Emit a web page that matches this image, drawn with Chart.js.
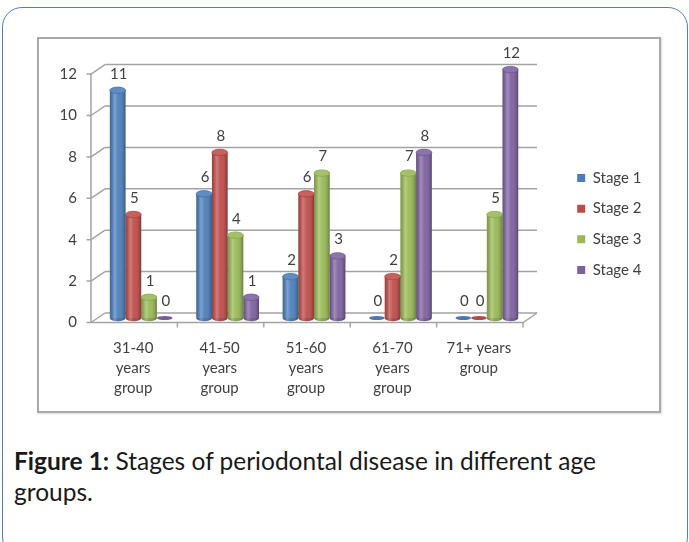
<!DOCTYPE html>
<html>
<head>
<meta charset="utf-8">
<script src="https://cdn.jsdelivr.net/npm/chart.js@4.4.1/dist/chart.umd.min.js"></script>
<style>
  html, body { margin: 0; padding: 0; background: #ffffff; }
  body { width: 689px; height: 542px; position: relative; overflow: hidden; font-family: Lato, "Open Sans", sans-serif; }
  .card { position: absolute; left: 2px; top: 7px; width: 684px; height: 548px; border: 1.5px solid #4f7fbd; border-radius: 20px; }
  .frame { position: absolute; left: 37px; top: 37px; width: 620px; height: 372px; border: 2px solid #a9a9a9; box-shadow: 1px 1px 2px rgba(0,0,0,0.15); }
  #chart { position: absolute; left: 38px; top: 38px; }
  .caption { position: absolute; left: 14px; top: 445px; width: 670px; font-size: 24.5px; line-height: 31px; color: #1a1a1a; white-space: nowrap; }
  .caption b { font-weight: 700; }
</style>
</head>
<body>
<div class="card"></div>
<div class="frame"></div>
<canvas id="chart" width="620" height="372"></canvas>
<div class="caption"><b>Figure 1:</b> Stages of periodontal disease in different age<br>groups.</div>
<script>
// Age groups on the category axis (multi-line labels)
const categories = [
  ['31-40', 'years', 'group'],
  ['41-50', 'years', 'group'],
  ['51-60', 'years', 'group'],
  ['61-70', 'years', 'group'],
  ['71+ years', 'group']
];
const seriesNames = ['Stage 1', 'Stage 2', 'Stage 3', 'Stage 4'];
const stage1 = [11, 6, 2, 0, 0];
const stage2 = [5, 8, 6, 2, 0];
const stage3 = [1, 4, 7, 7, 5];
const stage4 = [0, 1, 3, 8, 12];
const yTicks = [0, 2, 4, 6, 8, 10, 12];
const seriesColors = ['#4a7ebb', '#be4b48', '#98b954', '#7d60a0'];

const FONT = 'Lato, "Open Sans", sans-serif';
const TEXT = '#404040';
const GRID = '#a3a3a3';
// depth of the pseudo-3D box: bars sit midway between front and back planes
const DEPTH_X = 7, DEPTH_BACK_Y = -5, DEPTH_FRONT_Y = 4.5;
const LEGEND_LEFT = 523.5;

function shade(hex, f) {
  const n = parseInt(hex.slice(1), 16);
  let r = (n >> 16) & 255, g = (n >> 8) & 255, b = n & 255;
  if (f >= 0) { r += (255 - r) * f; g += (255 - g) * f; b += (255 - b) * f; }
  else { r *= 1 + f; g *= 1 + f; b *= 1 + f; }
  return `rgb(${Math.round(r)},${Math.round(g)},${Math.round(b)})`;
}

// Keep the legend column in the right margin, centred on the full canvas height
const legendPlacement = {
  id: 'legendPlacement',
  afterLayout(chart) {
    const lg = chart.legend;
    if (!lg) return;
    const shift = LEGEND_LEFT - lg.left;
    lg.left += shift;
    lg.right += shift;
    lg.top = 0;
    lg.bottom = chart.height;
    lg.height = chart.height;
  }
};

// Back wall, side wall, floor and front axis lines drawn from the scales
const wallsPlugin = {
  id: 'walls',
  beforeDatasetsDraw(chart) {
    const { ctx, chartArea: a, scales: { y } } = chart;
    ctx.save();
    ctx.strokeStyle = GRID;
    ctx.lineWidth = 1.5;
    const fx = a.left - DEPTH_X, bx = a.left + DEPTH_X;
    yTicks.forEach(v => {
      const py = y.getPixelForValue(v);
      const yb = py + DEPTH_BACK_Y, yf = py + DEPTH_FRONT_Y;
      ctx.beginPath();
      ctx.moveTo(bx, yb); ctx.lineTo(a.right + DEPTH_X, yb);      // back wall line
      ctx.moveTo(fx, yf); ctx.lineTo(bx, yb);                      // side wall line
      ctx.moveTo(fx - 4.5, yf); ctx.lineTo(fx, yf);                // tick mark
      ctx.stroke();
    });
    const y0 = y.getPixelForValue(0), yTop = y.getPixelForValue(12);
    ctx.beginPath();
    ctx.moveTo(fx, yTop + DEPTH_FRONT_Y); ctx.lineTo(fx, y0 + DEPTH_FRONT_Y);          // front y axis
    ctx.moveTo(fx, y0 + DEPTH_FRONT_Y); ctx.lineTo(a.right - DEPTH_X, y0 + DEPTH_FRONT_Y); // front x axis
    ctx.lineTo(a.right + DEPTH_X, y0 + DEPTH_BACK_Y);                                  // floor edge
    const step = (a.right - a.left) / categories.length;
    for (let i = 1; i <= categories.length; i++) {
      const tx = a.left - DEPTH_X + i * step;
      ctx.moveTo(tx, y0 + DEPTH_FRONT_Y); ctx.lineTo(tx, y0 + DEPTH_FRONT_Y + 5);
    }
    ctx.stroke();
    ctx.restore();
  }
};

// Cylinder shading, end caps and value labels for each bar
const cylinderPlugin = {
  id: 'cylinders',
  afterDatasetsDraw(chart) {
    const { ctx } = chart;
    ctx.save();
    chart.data.datasets.forEach((ds, di) => {
      const meta = chart.getDatasetMeta(di);
      const base = seriesColors[di];
      meta.data.forEach((el, i) => {
        const { x, y, width, base: b } = el.getProps(['x', 'y', 'width', 'base'], true);
        const l = x - width / 2, r = x + width / 2, h = b - y;
        const ry = 3.2;
        if (h > 0.5) {
          // bottom rounded end
          ctx.beginPath();
          ctx.ellipse(x, b, width / 2, ry, 0, 0, Math.PI);
          ctx.fillStyle = shade(base, -0.15);
          ctx.fill();
          // body highlight / shadow
          const g = ctx.createLinearGradient(l, 0, r, 0);
          g.addColorStop(0, 'rgba(0,0,0,0.18)');
          g.addColorStop(0.3, 'rgba(255,255,255,0.28)');
          g.addColorStop(0.55, 'rgba(255,255,255,0.05)');
          g.addColorStop(1, 'rgba(0,0,0,0.30)');
          ctx.fillStyle = g;
          ctx.fillRect(l, y, width, h);
          ctx.beginPath();
          ctx.ellipse(x, b, width / 2, ry, 0, 0, Math.PI);
          ctx.fill();
          // top cap
          ctx.beginPath();
          ctx.ellipse(x, y, width / 2, ry, 0, 0, Math.PI * 2);
          ctx.fillStyle = shade(base, 0.12);
          ctx.fill();
          ctx.strokeStyle = shade(base, -0.1);
          ctx.lineWidth = 0.8;
          ctx.stroke();
        } else {
          // flat disc for an empty bar
          ctx.beginPath();
          ctx.ellipse(x, b, width / 2, 2, 0, 0, Math.PI * 2);
          ctx.fillStyle = shade(base, -0.05);
          ctx.fill();
        }
        ctx.fillStyle = TEXT;
        ctx.font = '15px ' + FONT;
        ctx.textAlign = 'center';
        ctx.textBaseline = 'middle';
        ctx.fillText(String(ds.data[i]), x + 1, y - 16.5);
      });
    });
    ctx.restore();
  }
};

const datasets = [stage1, stage2, stage3, stage4].map((vals, i) => ({
  label: seriesNames[i],
  data: vals,
  backgroundColor: seriesColors[i],
  borderWidth: 0,
  categoryPercentage: 0.726,
  barPercentage: 1.0
}));

new Chart(document.getElementById('chart'), {
  type: 'bar',
  data: { labels: categories, datasets },
  plugins: [legendPlacement, wallsPlugin, cylinderPlugin],
  options: {
    responsive: false,
    animation: false,
    devicePixelRatio: 1,
    layout: { padding: { top: 31.6, bottom: 0, left: 0, right: 38 } },
    plugins: {
      tooltip: { enabled: false },
      legend: {
        position: 'right',
        align: 'center',
        labels: {
          boxWidth: 8,
          boxHeight: 8,
          padding: 15.7,
          color: TEXT,
          font: { family: FONT, size: 15 }
        }
      }
    },
    scales: {
      x: {
        grid: { display: false, drawTicks: false },
        border: { display: false },
        ticks: {
          color: TEXT,
          font: { family: FONT, size: 15, lineHeight: 1.333 },
          padding: 20,
          labelOffset: -8,
          maxRotation: 0,
          autoSkip: false
        },
        afterFit(scale) { scale.height = 92; }
      },
      y: {
        min: 0,
        max: 12,
        grid: { display: false, drawTicks: false },
        border: { display: false },
        ticks: {
          stepSize: 2,
          color: TEXT,
          font: { family: FONT, size: 15 },
          padding: 21,
          labelOffset: 4.5
        },
        afterFit(scale) { scale.width = 60; }
      }
    }
  }
});
</script>
</body>
</html>
